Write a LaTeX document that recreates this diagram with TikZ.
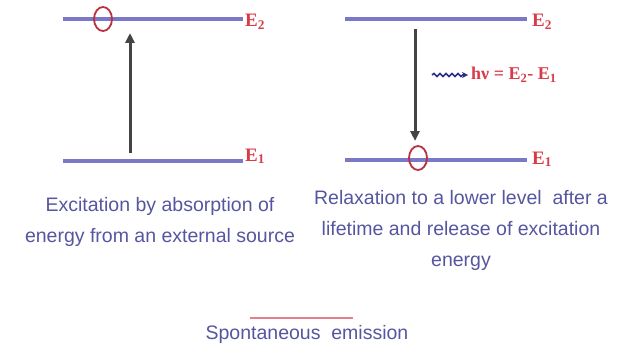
\documentclass[tikz,border=0pt]{standalone}
\usepackage{fontspec}
\setmainfont{Liberation Sans}
\newfontfamily\serifE{Liberation Serif}
\usetikzlibrary{arrows.meta,decorations.pathmorphing,shapes.geometric}
\definecolor{lvl}{HTML}{7B78C8}
\definecolor{lbl}{HTML}{D83A48}
\definecolor{txt}{HTML}{5656A0}
\definecolor{arr}{HTML}{444444}
\definecolor{wav}{HTML}{2E2E8A}
\tikzset{
  level/.style={draw=lvl,line width=3.6pt},
  elabel/.style={text=lbl,font=\serifE\bfseries\fontsize{19}{19}\selectfont,anchor=base west,inner sep=0pt},
  dot/.style={draw=lbl!85!black,line width=1.8pt,ellipse,minimum width=18pt,minimum height=24pt,inner sep=0pt},
  trans/.style={draw=arr,line width=3pt,-{Triangle[length=10pt,width=9pt]}},
  caption/.style={text=txt,font=\fontsize{19.5}{31}\selectfont,align=center,inner sep=0pt}
}
\begin{document}
\begin{tikzpicture}[x=1pt,y=-1pt]
\useasboundingbox (0,0) rectangle (639,353);
% left
\coordinate (l2a) at (63,19); \coordinate (l2b) at (243,19);
\coordinate (l1a) at (63,161); \coordinate (l1b) at (243,161);
\draw[level] (l2a) -- (l2b);
\draw[level] (l1a) -- (l1b);
\node[elabel] (le2) at (245,27) {E\textsubscript{2}};
\node[elabel] (le1) at (245,161) {E\textsubscript{1}};
\node[dot] (lc) at (103,19) {};
\coordinate (la1) at (130,153); \coordinate (la2) at (130,33);
\draw[trans] (la1) -- (la2);
\node[caption] (lcap) at (160,222) {Excitation by absorption of\\energy from an external source};
% right
\coordinate (r2a) at (345,19); \coordinate (r2b) at (527,19);
\coordinate (r1a) at (345,160); \coordinate (r1b) at (527,160);
\draw[level] (r2a) -- (r2b);
\draw[level] (r1a) -- (r1b);
\node[elabel] (re2) at (532,27) {E\textsubscript{2}};
\node[elabel] (re1) at (532,164) {E\textsubscript{1}};
\node[dot] (rc) at (418,158) {};
\coordinate (ra1) at (415,29); \coordinate (ra2) at (415,141);
\draw[trans] (ra1) -- (ra2);
\coordinate (w1) at (432,75);
\node[text=lbl,font=\serifE\bfseries\fontsize{18}{18}\selectfont,anchor=west,inner sep=0pt] (hv) at (471,75) {hν = E\textsubscript{2}- E\textsubscript{1}};
\draw[draw=wav,line width=1.6pt,-{Stealth[length=6pt,width=6pt]},decorate,decoration={snake,amplitude=1.5pt,segment length=6pt,post length=5pt}] (w1) -- ([xshift=-3pt]hv.west);
\node[caption] (rcap) at (461,230) {Relaxation to a lower level~ after a\\lifetime and release of excitation\\energy};
% bottom
\coordinate (b1) at (250,318); \coordinate (b2) at (353,318);
\draw[draw=lbl!65,line width=1.4pt] (b1) -- (b2);
\node[caption] (title) at (307,334) {Spontaneous~ emission};
\end{tikzpicture}
\end{document}
